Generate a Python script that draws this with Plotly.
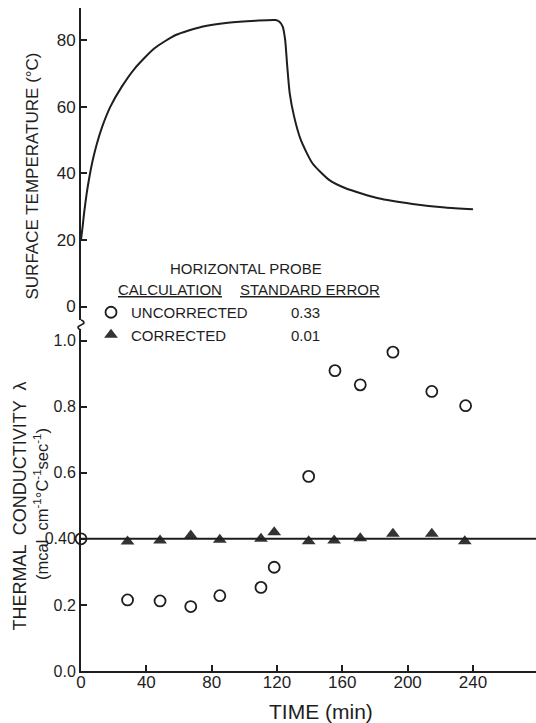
import plotly.graph_objects as go
from plotly.subplots import make_subplots

# ---- data ----
time_temp = [0, 1, 2, 3.5, 5, 7, 9.5, 13, 18, 25, 33, 45, 58, 74, 90, 107, 119,
             121.5, 123.5, 125, 126.3, 127.8, 130.5, 134.6, 141.7, 151.9, 162,
             182, 203, 223, 240]
surface_temp = [20, 24, 28.5, 34, 38.5, 43.5, 48.5, 54, 60, 66, 71.5, 77.5, 81.5,
                84, 85.2, 85.8, 86, 85.5, 84, 80, 72, 64, 57, 50, 43, 38, 35.5,
                32.5, 30.8, 29.7, 29.2]

time_uncorr = [0, 28.5, 48.4, 67.2, 85, 110.2, 118.3, 139.4, 155.5, 171, 191, 214.8, 235.5]
lambda_uncorr = [0.40, 0.215, 0.212, 0.195, 0.228, 0.253, 0.314, 0.589, 0.909,
                 0.866, 0.965, 0.846, 0.803]

time_corr = [28.5, 48.4, 67.2, 85, 110.2, 118.3, 139.4, 155, 171, 191, 214.8, 235]
lambda_corr = [0.392, 0.395, 0.410, 0.397, 0.400, 0.420, 0.393, 0.395, 0.402,
               0.415, 0.415, 0.393]

mean_lambda = 0.40

x_ticks = [0, 40, 80, 120, 160, 200, 240]
temp_ticks = [0, 20, 40, 60, 80]
lambda_ticks = [0.0, 0.2, 0.4, 0.6, 0.8, 1.0]
lambda_ticktext = ["0.0", "0.2", "0.40", "0.6", "0.8", "1.0"]

std_labels = ["0.33", "0.01"]

# ---- layout helpers (pixel -> paper) ----
W, H = 536, 723
ML, MR, MT, MB = 81, 0, 8, 52
PW, PH = W - ML - MR, H - MT - MB


def px(x):
    return (x - ML) / PW


def py(y):
    return (H - MB - y) / PH


INK = "#1e1e1e"
FONT = "Liberation Sans, Arial, sans-serif"

fig = make_subplots(rows=2, cols=1, shared_xaxes=True)

fig.add_trace(go.Scatter(x=time_temp, y=surface_temp, mode="lines",
                         line=dict(color=INK, width=2, shape="spline", smoothing=0.6),
                         showlegend=False, cliponaxis=False), row=1, col=1)

fig.add_trace(go.Scatter(x=time_uncorr, y=lambda_uncorr, mode="markers",
                         name="UNCORRECTED",
                         marker=dict(symbol="circle-open", size=11, color=INK,
                                     line=dict(width=1.8, color=INK)),
                         cliponaxis=False), row=2, col=1)

fig.add_trace(go.Scatter(x=time_corr, y=lambda_corr, mode="markers",
                         name="CORRECTED",
                         marker=dict(symbol="triangle-up", size=12, color="#333333",
                                     line=dict(width=0)),
                         cliponaxis=False), row=2, col=1)

top_dom = [py(320), 1.0]
bot_dom = [0.0, py(330)]

axis_common = dict(showline=True, linecolor=INK, linewidth=2, ticks="inside",
                   ticklen=6, tickwidth=1.5, tickcolor=INK, showgrid=False,
                   zeroline=False, tickfont=dict(family=FONT, size=17, color=INK))

fig.update_xaxes(range=[0, 278.6], row=1, col=1, visible=False)
fig.update_xaxes(range=[0, 278.6], row=2, col=1, tickvals=x_ticks,
                 ticklabelstandoff=-5, **axis_common)
fig.update_yaxes(range=[-4.05, 89.6], domain=top_dom, row=1, col=1,
                 tickvals=temp_ticks, **axis_common)
fig.update_yaxes(range=[0, 1.032], domain=bot_dom, row=2, col=1,
                 tickvals=lambda_ticks, ticktext=lambda_ticktext, **axis_common)
fig.update_yaxes(row=2, col=1, tickfont=dict(family=FONT, size=16, color=INK))

# mean corrected conductivity reference line
fig.add_shape(type="line", xref="x2 domain", x0=0, x1=1, yref="y2",
              y0=mean_lambda, y1=mean_lambda, line=dict(color=INK, width=2))

# axis break squiggle
y_a, y_b = py(320), py(330)
dx = 3.5 / PW
ym1, ym2 = py(323.5), py(326.5)
fig.add_shape(type="path", xref="paper", yref="paper",
              path=f"M 0 {y_a} Q {dx} {py(321)} {dx*0.8} {ym1} Q 0 {py(325)} {-dx*0.8} {ym2} Q {-dx} {py(329)} 0 {y_b}",
              line=dict(color=INK, width=1.6))

ann = []
ann.append(dict(text="SURFACE TEMPERATURE (°C)", x=px(31.5), y=py(176), textangle=-90,
                font=dict(size=17, family=FONT, color=INK)))
ann.append(dict(text="THERMAL  CONDUCTIVITY  λ", x=px(19.5), y=py(506), textangle=-90,
                font=dict(size=18, family=FONT, color=INK)))
ann.append(dict(text="(mcal  cm<sup>-1</sup>°C<sup>-1</sup>sec<sup>-1</sup>)", x=px(41),
                y=py(504), textangle=-90, font=dict(size=16.5, family=FONT, color=INK)))
ann.append(dict(text="TIME (min)", x=px(321), y=py(711),
                font=dict(size=21, family=FONT, color=INK)))
ann.append(dict(text="HORIZONTAL PROBE", x=px(246), y=py(268),
                font=dict(size=15, family=FONT, color=INK)))
ann.append(dict(text="<span style='text-decoration:underline'>CALCULATION</span>",
                x=px(116), y=py(289), xanchor="left",
                font=dict(size=15, family=FONT, color=INK)))
ann.append(dict(text="<span style='text-decoration:underline'>STANDARD ERROR</span>",
                x=px(238), y=py(289), xanchor="left",
                font=dict(size=15, family=FONT, color=INK)))
for lab, yy in zip(std_labels, [312, 335]):
    ann.append(dict(text=lab, x=px(289), y=py(yy), xanchor="left",
                    font=dict(size=15, family=FONT, color=INK)))
for a in ann:
    a.update(xref="paper", yref="paper", showarrow=False)
    a.setdefault("xanchor", "center")
    a.setdefault("yanchor", "middle")

fig.update_layout(
    width=W, height=H,
    margin=dict(l=ML, r=MR, t=MT, b=MB),
    plot_bgcolor="white", paper_bgcolor="white",
    annotations=ann,
    showlegend=True,
    legend=dict(x=px(91), y=py(296), xanchor="left", yanchor="top",
                bgcolor="rgba(0,0,0,0)", itemwidth=30, tracegroupgap=0,
                font=dict(size=15, family=FONT, color=INK)),
)

fig.write_html("out.html")
